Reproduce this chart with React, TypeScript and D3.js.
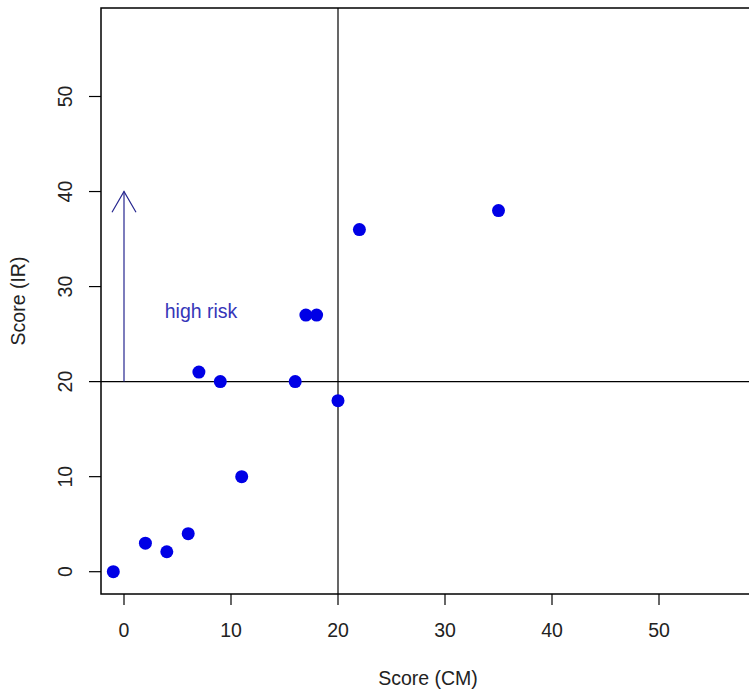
import React, { useRef, useEffect } from "react";
import * as d3 from "d3";

// scatter points: CM score vs IR score
const scoreCM = [-1, 2, 4, 6, 11, 7, 9, 16, 17, 18, 20, 22, 35];
const scoreIR = [0, 3, 2.1, 4, 10, 21, 20, 20, 27, 27, 18, 36, 38];
const xTicks = [0, 10, 20, 30, 40, 50];
const yTicks = [0, 10, 20, 30, 40, 50];
const cutCM = 20;
const cutIR = 20;
const arrowFrom = { x: 0, y: 20 };
const arrowTo = { x: 0, y: 40 };
const note = { x: 7.2, y: 27.4, label: "high risk" };

export default function App() {
  const ref = useRef<SVGSVGElement>(null);

  useEffect(() => {
    if (!ref.current) return;
    const svg = d3.select(ref.current);
    svg.selectAll("*").remove();

    const w = 749;
    const h = 693;
    const box = { left: 101, right: 755, top: 8, bottom: 594 };
    const font = "Arial, 'Liberation Sans', sans-serif";
    const fs = 19.5;

    const x = d3.scaleLinear().domain([0, 50]).range([124, 659]);
    const y = d3.scaleLinear().domain([0, 50]).range([571.7, 96.5]);

    svg.attr("width", w).attr("height", h);
    svg.append("rect").attr("width", w).attr("height", h).attr("fill", "#fff");

    // cut-off lines
    svg.append("line")
      .attr("x1", x(cutCM)).attr("x2", x(cutCM))
      .attr("y1", box.top).attr("y2", box.bottom)
      .attr("stroke", "#000").attr("stroke-width", 1.2);
    svg.append("line")
      .attr("x1", box.left).attr("x2", box.right)
      .attr("y1", y(cutIR)).attr("y2", y(cutIR))
      .attr("stroke", "#000").attr("stroke-width", 1.2);

    // plot box
    svg.append("rect")
      .attr("x", box.left).attr("y", box.top)
      .attr("width", box.right - box.left).attr("height", box.bottom - box.top)
      .attr("fill", "none").attr("stroke", "#000").attr("stroke-width", 1.5);

    // x axis
    const gx = svg.append("g");
    xTicks.forEach(t => {
      gx.append("line")
        .attr("x1", x(t)).attr("x2", x(t))
        .attr("y1", box.bottom).attr("y2", box.bottom + 11)
        .attr("stroke", "#000").attr("stroke-width", 1.2);
      gx.append("text")
        .attr("x", x(t)).attr("y", 630)
        .attr("text-anchor", "middle").attr("dominant-baseline", "central")
        .style("font-family", font).style("font-size", fs + "px")
        .attr("fill", "#222").text(t);
    });

    // y axis
    const gy = svg.append("g");
    yTicks.forEach(t => {
      gy.append("line")
        .attr("x1", box.left - 12).attr("x2", box.left)
        .attr("y1", y(t)).attr("y2", y(t))
        .attr("stroke", "#000").attr("stroke-width", 1.2);
      gy.append("text")
        .attr("transform", `translate(65,${y(t)}) rotate(-90)`)
        .attr("text-anchor", "middle").attr("dominant-baseline", "central")
        .style("font-family", font).style("font-size", fs + "px")
        .attr("fill", "#222").text(t);
    });

    // axis titles
    svg.append("text")
      .attr("x", (box.left + box.right) / 2).attr("y", 678)
      .attr("text-anchor", "middle").attr("dominant-baseline", "central")
      .style("font-family", font).style("font-size", fs + "px")
      .attr("fill", "#222").text("Score (CM)");
    svg.append("text")
      .attr("transform", `translate(18,${(box.top + box.bottom) / 2}) rotate(-90)`)
      .attr("text-anchor", "middle").attr("dominant-baseline", "central")
      .style("font-family", font).style("font-size", fs + "px")
      .attr("fill", "#222").text("Score (IR)");

    // arrow
    const arrowColor = "#26268f";
    const x0 = x(arrowFrom.x), y0 = y(arrowFrom.y);
    const x1 = x(arrowTo.x), y1 = y(arrowTo.y);
    svg.append("line")
      .attr("x1", x0).attr("y1", y0).attr("x2", x1).attr("y2", y1)
      .attr("stroke", arrowColor).attr("stroke-width", 1.2);
    const ang = Math.atan2(y1 - y0, x1 - x0);
    const len = 24;
    const spread = Math.PI / 6;
    const head = d3.path();
    head.moveTo(x1 - len * Math.cos(ang - spread), y1 - len * Math.sin(ang - spread));
    head.lineTo(x1, y1);
    head.lineTo(x1 - len * Math.cos(ang + spread), y1 - len * Math.sin(ang + spread));
    svg.append("path")
      .attr("d", head.toString())
      .attr("fill", "none").attr("stroke", arrowColor).attr("stroke-width", 1.2);

    svg.append("text")
      .attr("x", x(note.x)).attr("y", y(note.y))
      .attr("text-anchor", "middle").attr("dominant-baseline", "central")
      .style("font-family", font).style("font-size", fs + "px")
      .attr("fill", "#3535b8").text(note.label);

    // points
    svg.append("g")
      .selectAll("circle")
      .data(scoreCM.map((c, i) => ({ c, r: scoreIR[i] })))
      .join("circle")
      .attr("cx", d => x(d.c))
      .attr("cy", d => y(d.r))
      .attr("r", 6.5)
      .attr("fill", "#0000e6");
  }, []);

  return (
    <div style={{ position: "absolute", left: 0, top: 0 }}>
      <svg ref={ref} />
    </div>
  );
}
